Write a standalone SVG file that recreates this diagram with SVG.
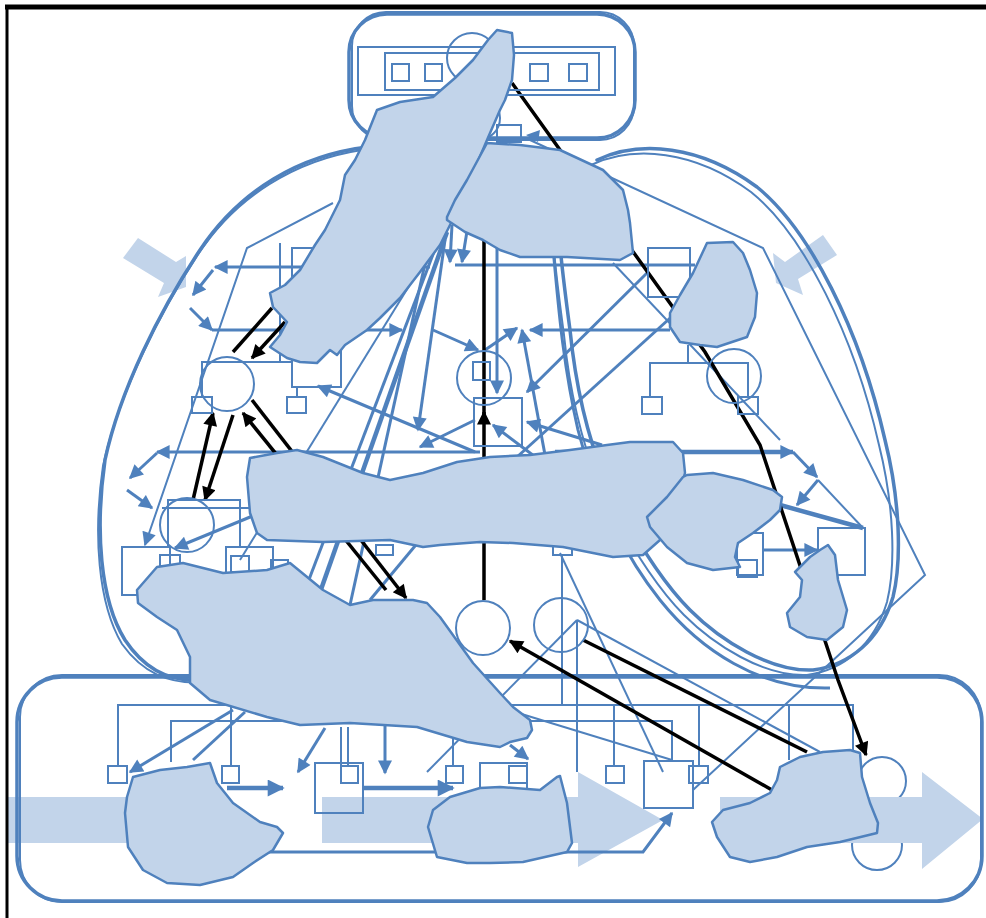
<svg xmlns="http://www.w3.org/2000/svg" width="986" height="918" viewBox="0 0 986 918">
<defs>
<style>
.o{fill:none;stroke:#4F81BD;stroke-width:3.5;stroke-linejoin:round;stroke-linecap:round}
.o2{fill:none;stroke:#4F81BD;stroke-width:2;stroke-linejoin:round}
.t{fill:none;stroke:#4F81BD;stroke-width:2}
.m{fill:none;stroke:#4F81BD;stroke-width:3}
.w{fill:none;stroke:#4F81BD;stroke-width:4.5}
.n{fill:none;stroke:#4F81BD;stroke-width:2}
.k{fill:none;stroke:#000;stroke-width:3.5}
.b{fill:#C2D4EA;stroke:#4F81BD;stroke-width:2.5;stroke-linejoin:round}
.ba{fill:#C2D4EA;stroke:none}
.ab{marker-end:url(#ab)}
.abL{marker-end:url(#abL)}
.ak{marker-end:url(#ak)}
</style>
<marker id="ab" viewBox="0 0 10 10" refX="9" refY="5" markerWidth="16" markerHeight="14" orient="auto" markerUnits="userSpaceOnUse"><path d="M0,0 L10,5 L0,10 z" fill="#4F81BD"/></marker>
<marker id="abL" viewBox="0 0 10 10" refX="9" refY="5" markerWidth="20" markerHeight="17" orient="auto" markerUnits="userSpaceOnUse"><path d="M0,0 L10,5 L0,10 z" fill="#4F81BD"/></marker>
<marker id="ak" viewBox="0 0 10 10" refX="9" refY="5" markerWidth="18" markerHeight="14" orient="auto" markerUnits="userSpaceOnUse"><path d="M0,0 L10,5 L0,10 z" fill="#000"/></marker>
</defs>
<rect width="986" height="918" fill="#fff"/>

<g id="hidden-circles">
<circle class="n" cx="882" cy="781" r="24"/>
<circle class="n" cx="877" cy="845" r="25"/>
</g>

<g id="block-arrows">
<polygon class="ba" points="123,258 138,238 176,262 186,256 186,287 158,297 164,283"/>
<polygon class="ba" points="837,255 823,235 785,262 773,253 776,283 803,295 798,279"/>
<rect class="ba" x="8" y="797" width="135" height="46"/>
<polygon class="ba" points="322,797 578,797 578,772 663,820 578,867 578,843 322,843"/>
<polygon class="ba" points="720,797 922,797 922,772 983,819 922,869 922,843 720,843"/>
</g>

<g id="containers">
<rect class="o" x="349" y="14" width="286" height="124" rx="38"/>
<rect class="o2" x="352" y="12" width="282" height="128" rx="34"/>
<rect class="o" x="17" y="677" width="965" height="224" rx="45"/>
<rect class="o2" x="20" y="675" width="961" height="227" rx="42"/>
<path class="o" d="M368,147 C300,155 240,190 200,250 C160,310 120,390 105,460 C95,530 100,600 125,640 C145,670 170,682 200,680"/>
<path class="o2" d="M362,150 C296,160 236,196 197,256 C158,316 118,396 103,466 C93,534 98,604 122,644 C142,672 168,685 205,682"/>
<path class="o" d="M597,160 C640,140 700,145 757,187 C810,230 860,330 885,440 C900,500 902,560 893,597 C880,640 850,665 813,670 C770,672 720,640 690,610 C660,580 630,530 605,480 C585,430 575,380 570,330 C566,300 562,270 560,245"/>
<path class="o2" transform="translate(-6,5)" d="M597,160 C640,140 700,145 757,187 C810,230 860,330 885,440 C900,500 902,560 893,597 C880,640 850,665 813,670 C770,672 720,640 690,610 C660,580 630,530 605,480 C585,430 575,380 570,330 C566,300 562,270 560,245"/>
<path class="m" d="M553,248 C558,300 562,360 578,430 C596,500 628,560 660,600 C700,650 760,690 830,688"/>
</g>

<g id="connectors">
<polyline class="t" points="530,140 763,248 925,575 693,790"/>
<polyline class="t ab" points="333,203 247,248 145,545"/>
<line class="m ab" x1="430" y1="267" x2="215" y2="267"/>
<line class="m ab" x1="213" y1="270" x2="193" y2="295"/>
<line class="m ab" x1="190" y1="308" x2="212" y2="330"/>
<line class="m ab" x1="212" y1="330" x2="402" y2="330"/>
<line class="t" x1="280" y1="243" x2="280" y2="362"/>
<polyline class="t" points="202,397 202,362 292,362"/>
<line class="t" x1="297" y1="387" x2="297" y2="397"/>
<line class="m" x1="455" y1="265" x2="695" y2="265"/>
<line class="m ab" x1="670" y1="330" x2="530" y2="330"/>
<polyline class="t" points="688,345 688,363"/>
<polyline class="t" points="650,397 650,363 748,363 748,397"/>
<line class="t" x1="613" y1="263" x2="780" y2="440"/>
<line class="w" x1="447" y1="232" x2="318" y2="598"/>
<line class="m" x1="440" y1="236" x2="305" y2="590"/>
<line class="m" x1="428" y1="250" x2="350" y2="605"/>
<line class="t" x1="430" y1="252" x2="240" y2="560"/>
<line class="m" x1="470" y1="480" x2="370" y2="600"/>
<line class="m ab" x1="452" y1="225" x2="450" y2="262"/>
<line class="m ab" x1="468" y1="225" x2="462" y2="262"/>
<line class="m ab" x1="433" y1="330" x2="478" y2="350"/>
<line class="m ab" x1="485" y1="350" x2="517" y2="328"/>
<line class="m ab" x1="497" y1="245" x2="497" y2="393"/>
<line class="m ab" x1="545" y1="455" x2="522" y2="330"/>
<line class="m ab" x1="648" y1="272" x2="527" y2="392"/>
<line class="m ab" x1="602" y1="445" x2="527" y2="422"/>
<line class="m ab" x1="550" y1="468" x2="493" y2="425"/>
<line class="m" x1="517" y1="457" x2="690" y2="300"/>
<line class="m ab" x1="475" y1="452" x2="318" y2="386"/>
<line class="m ab" x1="445" y1="240" x2="418" y2="430"/>
<line class="m ab" x1="475" y1="420" x2="420" y2="447"/>
<line class="m ab" x1="480" y1="452" x2="157" y2="452"/>
<line class="m ab" x1="157" y1="453" x2="130" y2="478"/>
<line class="m ab" x1="127" y1="490" x2="152" y2="508"/>
<line class="w ab" x1="555" y1="452" x2="793" y2="452"/>
<line class="m ab" x1="793" y1="452" x2="817" y2="477"/>
<line class="m ab" x1="818" y1="480" x2="797" y2="505"/>
<line class="w" x1="780" y1="505" x2="863" y2="528"/>
<line class="t" x1="818" y1="480" x2="863" y2="528"/>
<line class="m ab" x1="763" y1="550" x2="817" y2="550"/>
<line class="m ab" x1="255" y1="515" x2="175" y2="548"/>
<line class="t" x1="562" y1="555" x2="562" y2="705"/>
<line class="t" x1="560" y1="553" x2="663" y2="772"/>
<line class="t" x1="577" y1="620" x2="577" y2="772"/>
<line class="t" x1="577" y1="620" x2="427" y2="772"/>
<line class="t" x1="577" y1="620" x2="820" y2="752"/>
<polyline class="t" points="118,766 118,705 853,705 853,750"/>
<polyline class="t" points="171,762 171,721 672,721 672,761"/>
<line class="t" x1="231" y1="705" x2="231" y2="766"/>
<line class="t" x1="614" y1="705" x2="614" y2="766"/>
<line class="t" x1="699" y1="705" x2="699" y2="766"/>
<line class="t" x1="789" y1="705" x2="789" y2="760"/>
<line class="t" x1="341" y1="727" x2="341" y2="766"/>
<line class="t" x1="348" y1="727" x2="348" y2="766"/>
<line class="t" x1="453" y1="738" x2="453" y2="766"/>
<line class="t" x1="515" y1="712" x2="672" y2="760"/>
<line class="m ab" x1="385" y1="722" x2="385" y2="773"/>
<line class="m ab" x1="233" y1="710" x2="130" y2="772"/>
<line class="m" x1="245" y1="712" x2="193" y2="760"/>
<line class="m ab" x1="325" y1="728" x2="298" y2="772"/>
<line class="w abL" x1="227" y1="788" x2="283" y2="788"/>
<line class="w abL" x1="363" y1="788" x2="453" y2="788"/>
<line class="m ab" x1="510" y1="745" x2="528" y2="759"/>
<polyline class="m ab" points="267,852 643,852 672,813"/>
<polyline class="k ak" points="512,83 705,352 760,445 838,680 866,755"/>
<line class="k" x1="272" y1="308" x2="233" y2="352"/>
<line class="k ak" x1="285" y1="322" x2="252" y2="358"/>
<line class="k ak" x1="193" y1="500" x2="213" y2="413"/>
<line class="k ak" x1="233" y1="415" x2="205" y2="500"/>
<line class="k ak" x1="386" y1="590" x2="243" y2="413"/>
<line class="k ak" x1="252" y1="400" x2="406" y2="598"/>
<line class="k" x1="484" y1="200" x2="484" y2="415"/>
<line class="k ak" x1="484" y1="600" x2="484" y2="412"/>
<line class="k ak" x1="772" y1="790" x2="510" y2="641"/>
<line class="k" x1="583" y1="640" x2="807" y2="752"/>
<path d="M540,130 L526,135 L538,142 z" fill="#4F81BD"/>
</g>

<g id="node-top">
<rect class="n" x="358" y="47" width="257" height="48"/>
<rect class="n" x="385" y="53" width="214" height="37"/>
<rect class="n" x="392" y="64" width="17" height="17"/>
<rect class="n" x="425" y="64" width="17" height="17"/>
<rect class="n" x="530" y="64" width="18" height="17"/>
<rect class="n" x="569" y="64" width="18" height="17"/>
<circle class="n" cx="472" cy="58" r="25"/>
<circle class="n" cx="478" cy="118" r="22"/>
<rect class="n" x="497" y="125" width="24" height="17"/>
</g>
<g id="node-left-mid">
<circle class="n" cx="227" cy="384" r="27"/>
<rect class="n" x="192" y="397" width="20" height="16"/>
<rect class="n" x="287" y="397" width="19" height="16"/>
<rect class="n" x="292" y="248" width="49" height="139"/>
</g>
<g id="node-right-top">
<rect class="n" x="648" y="248" width="42" height="49"/>
<circle class="n" cx="734" cy="376" r="27"/>
<rect class="n" x="642" y="397" width="20" height="17"/>
<rect class="n" x="738" y="397" width="20" height="17"/>
</g>
<g id="node-center">
<circle class="n" cx="484" cy="378" r="27"/>
<rect class="n" x="473" y="362" width="17" height="18"/>
<rect class="n" x="474" y="398" width="48" height="48"/>
<circle class="n" cx="483" cy="628" r="27"/>
<circle class="n" cx="561" cy="625" r="27"/>
<rect class="n" x="376" y="545" width="17" height="10"/>
<rect class="n" x="553" y="545" width="19" height="10"/>
</g>
<g id="node-left-low">
<circle class="n" cx="187" cy="525" r="27"/>
<polyline class="n" points="168,548 168,500 240,500 240,547"/>
<line class="n" x1="162" y1="508" x2="253" y2="508"/>
<rect class="n" x="122" y="547" width="48" height="48"/>
<rect class="n" x="160" y="555" width="20" height="12"/>
<rect class="n" x="226" y="547" width="47" height="31"/>
<rect class="n" x="231" y="556" width="18" height="16"/>
<rect class="n" x="271" y="560" width="17" height="8"/>
</g>
<g id="node-right-low">
<rect class="n" x="818" y="528" width="47" height="47"/>
<rect class="n" x="737" y="533" width="26" height="42"/>
<rect class="n" x="738" y="560" width="19" height="17"/>
</g>
<g id="node-bottom">
<rect class="n" x="108" y="766" width="19" height="17"/>
<rect class="n" x="222" y="766" width="17" height="17"/>
<rect class="n" x="315" y="763" width="48" height="50"/>
<rect class="n" x="341" y="766" width="17" height="17"/>
<rect class="n" x="446" y="766" width="17" height="17"/>
<rect class="n" x="480" y="763" width="47" height="40"/>
<rect class="n" x="509" y="766" width="18" height="17"/>
<rect class="n" x="606" y="766" width="18" height="17"/>
<rect class="n" x="644" y="761" width="49" height="47"/>
<rect class="n" x="689" y="766" width="19" height="17"/>
</g>

<g id="blobs">
<polygon class="b" points="497,30 512,33 514,55 512,80 505,100 500,110 487,140 470,180 455,215 440,245 420,272 400,298 380,318 367,330 345,345 337,355 330,350 317,363 300,362 287,358 270,347 280,335 287,322 273,307 270,293 285,285 300,270 315,245 325,230 335,210 340,200 345,175 355,160 365,140 377,110 400,102 433,97 455,78 473,60 488,40"/>
<polygon class="b" points="447,217 455,200 467,180 487,143 520,145 560,150 603,170 623,190 628,210 630,223 633,253 620,260 567,257 520,257 500,250 483,240 465,232 447,220"/>
<polygon class="b" points="707,243 733,242 743,253 750,270 757,293 755,317 747,337 717,347 700,345 680,342 670,327 670,313 680,295 693,273"/>
<polygon class="b" points="250,458 277,453 297,450 323,457 363,473 390,480 423,473 457,462 490,457 530,455 570,450 607,445 630,442 673,442 683,453 685,473 680,490 670,505 665,525 660,540 643,555 613,557 563,547 513,543 480,542 440,545 423,547 390,540 323,542 267,540 257,533 250,513 247,477"/>
<polygon class="b" points="687,475 713,473 743,480 773,490 782,497 780,510 770,520 753,533 738,543 735,557 740,567 713,570 687,563 667,547 650,527 647,517 667,497 683,477"/>
<polygon class="b" points="828,545 835,555 838,580 847,610 843,627 827,640 807,637 790,627 787,613 800,597 802,580 795,572 810,557 820,550"/>
<polygon class="b" points="137,590 157,567 183,563 223,573 267,570 290,563 323,590 350,605 373,600 413,600 427,603 440,617 473,663 500,693 513,707 530,720 532,730 527,738 510,742 500,747 467,742 417,727 350,723 300,725 267,717 210,700 190,683 190,657 177,630 157,617 138,603"/>
<polygon class="b" points="133,777 160,770 187,767 210,763 217,783 233,803 260,822 277,827 283,833 273,850 253,863 233,877 200,885 167,883 143,870 128,847 125,813 127,797"/>
<polygon class="b" points="433,810 450,797 480,788 500,787 540,790 557,777 560,776 567,803 572,843 567,852 523,862 490,863 467,863 437,857 428,827"/>
<polygon class="b" points="712,822 723,810 750,803 770,793 777,780 780,767 800,757 823,752 850,750 860,753 862,777 870,803 878,823 877,833 840,842 807,847 777,857 750,862 730,857 717,837"/>
</g>

<g id="frame">
<line x1="5" y1="7" x2="986" y2="7" stroke="#000" stroke-width="5"/>
<line x1="7" y1="7" x2="7" y2="918" stroke="#000" stroke-width="3"/>
</g>
</svg>
